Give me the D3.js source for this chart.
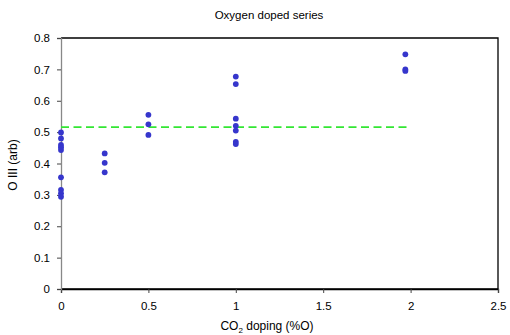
<!DOCTYPE html>
<html>
<head>
<meta charset="utf-8">
<script src="https://cdn.jsdelivr.net/npm/d3@7"></script>
<style>
  body { margin: 0; background: #fff; }
  text { font-family: "Liberation Sans", Arial, sans-serif; fill: #000; }
</style>
</head>
<body>
<div id="chart"></div>
<script>
// doping level (%O) and O III signal
const dopingX = [0, 0, 0, 0, 0, 0, 0, 0, 0,
                 0.25, 0.25, 0.25,
                 0.5, 0.5, 0.5,
                 1, 1, 1, 1, 1, 1, 1,
                 1.97, 1.97, 1.97];
const oIII = [0.499, 0.48, 0.459, 0.452, 0.443, 0.356, 0.316, 0.305, 0.294,
              0.432, 0.402, 0.372,
              0.555, 0.525, 0.491,
              0.677, 0.653, 0.543, 0.52, 0.505, 0.469, 0.462,
              0.748, 0.7, 0.695];
const meanLine = { x0: 0, x1: 1.98, y: 0.516 };
const xTicks = [0, 0.5, 1, 1.5, 2, 2.5];
const yTicks = [0, 0.1, 0.2, 0.3, 0.4, 0.5, 0.6, 0.7, 0.8];

const width = 510, height = 335;
const margin = { top: 38, right: 12, bottom: 46, left: 61 };

const svg = d3.select("#chart").append("svg")
  .attr("width", width)
  .attr("height", height);

const x = d3.scaleLinear().domain([0, 2.5]).range([margin.left, width - margin.right]);
const y = d3.scaleLinear().domain([0, 0.8]).range([height - margin.bottom, margin.top]);

// frame (top / right / bottom black)
svg.append("path")
  .attr("d", `M${x(0)},${y(0.8)}H${x(2.5)}V${y(0)}H${x(0)}`)
  .attr("fill", "none")
  .attr("stroke", "#000")
  .attr("stroke-width", 1.3);

// axes
const xAxis = d3.axisBottom(x).tickValues(xTicks).tickFormat(d3.format("")).tickSize(4).tickPadding(9);
const yAxis = d3.axisLeft(y).tickValues(yTicks).tickFormat(d3.format("")).tickSize(4).tickPadding(7);

const xg = svg.append("g")
  .attr("transform", `translate(0,${y(0)})`)
  .call(xAxis);
xg.select(".domain").attr("stroke", "#000").attr("stroke-width", 1.3);
xg.selectAll(".tick line").attr("stroke", "#444");

const yg = svg.append("g")
  .attr("transform", `translate(${x(0)},0)`)
  .call(yAxis);
yg.select(".domain").attr("stroke", "#888").attr("stroke-width", 1.3);
yg.selectAll(".tick line").attr("stroke", "#444");

svg.selectAll(".tick text")
  .attr("font-size", 11.5)
  .attr("font-family", "Liberation Sans, Arial, sans-serif")
  .attr("fill", "#000");

// green dashed reference line
svg.append("line")
  .attr("x1", x(meanLine.x0))
  .attr("x2", x(meanLine.x1))
  .attr("y1", y(meanLine.y))
  .attr("y2", y(meanLine.y))
  .attr("stroke", "#33e633")
  .attr("stroke-width", 1.6)
  .attr("stroke-dasharray", "8,4.5");

// points
svg.append("g").selectAll("circle")
  .data(dopingX.map((d, i) => ({ x: d, y: oIII[i] })))
  .join("circle")
  .attr("cx", d => x(d.x))
  .attr("cy", d => y(d.y))
  .attr("r", 2.9)
  .attr("fill", "#3636cc");

// titles
svg.append("text")
  .attr("x", 269).attr("y", 19)
  .attr("text-anchor", "middle")
  .attr("font-size", 11.5)
  .text("Oxygen doped series");

const xl = svg.append("text")
  .attr("x", 267).attr("y", 330)
  .attr("text-anchor", "middle")
  .attr("font-size", 12);
xl.append("tspan").text("CO");
xl.append("tspan").attr("font-size", 8).attr("dy", 3).text("2");
xl.append("tspan").attr("dy", -3).text(" doping (%O)");

svg.append("text")
  .attr("transform", `translate(17,165) rotate(-90)`)
  .attr("text-anchor", "middle")
  .attr("font-size", 12)
  .text("O III (arb)");
</script>
</body>
</html>
